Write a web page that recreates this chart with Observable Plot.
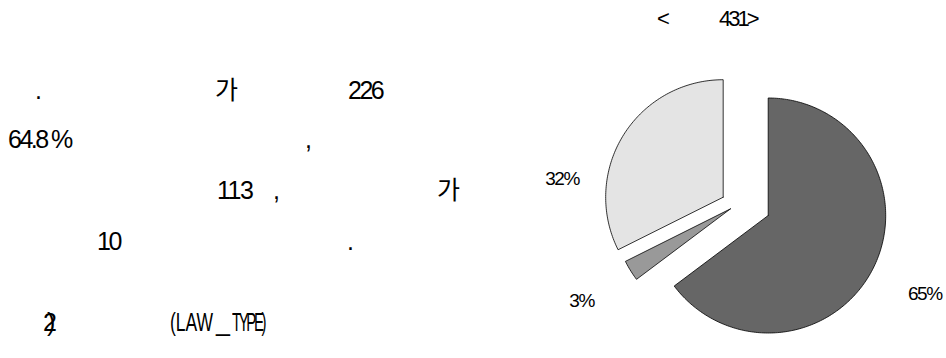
<!DOCTYPE html>
<html>
<head>
<meta charset="utf-8">
<script src="https://cdn.jsdelivr.net/npm/d3@7"></script>
<script src="https://cdn.jsdelivr.net/npm/@observablehq/plot@0.6"></script>
<style>
  body { margin: 0; background: #fff; }
  #wrap { position: relative; width: 946px; height: 358px; overflow: hidden;
          font-family: "Liberation Sans", "Noto Sans CJK KR", sans-serif; color: #000; }
  .t { position: absolute; font-size: 25px; line-height: 25px; white-space: pre; letter-spacing: -2.5px; transform-origin: left center; }
  .h { position: absolute; font-size: 22px; line-height: 22px; white-space: pre; letter-spacing: -3px; }
  #chart { position: absolute; left: 520px; top: 0; }
</style>
</head>
<body>
<div id="wrap">
  <div id="chart"></div>
  <!-- paragraph text (Korean glyphs not rendered in the source) -->
  <span class="t" style="left:35px;top:78px">.</span>
  <span class="t" style="left:215px;top:78px">가</span>
  <span class="t" style="left:348px;top:78px">226</span>
  <span class="t" style="left:8px;top:127px">64.8 %</span>
  <span class="t" style="left:305px;top:127px">,</span>
  <span class="t" style="left:217px;top:178px;letter-spacing:-1.5px">113</span>
  <span class="t" style="left:273px;top:178px">,</span>
  <span class="t" style="left:437px;top:178px">가</span>
  <span class="t" style="left:97px;top:229px">10</span>
  <span class="t" style="left:347px;top:229px">.</span>
  <span class="t" style="left:43px;top:310px;letter-spacing:-10px">2)</span>
  <span class="t" style="left:170px;top:310px;letter-spacing:0;transform:scaleX(0.7)">(LAW</span>
  <span class="t" style="left:216px;top:310px">_</span>
  <span class="t" style="left:232px;top:310px;letter-spacing:-4px;transform:scaleX(0.6)">TYPE)</span>
  <!-- chart title -->
  <span class="h" style="left:657px;top:8px">&lt;</span>
  <span class="h" style="left:719px;top:8px">431&gt;</span>
</div>
<script>
// ---- data (clockwise from 12 o'clock) ----
const categories = ["A", "B", "C"];
const values = [226, 10, 113];
const labels = ["65%", "3%", "32%"];
const colors = ["#666666", "#999999", "#e4e4e4"];

// ---- layout tweaks (in pie-radius units / degrees) ----
const explode = { A: { d: 0.255 }, B: { d: 0.109 }, C: { d: 0.1605, angle: 285 } };
const labelTweak = { C: { angle: 276.4, r: 1.38 } };
const labelR = 1.49;

const data = categories.map((k, i) => ({ key: k, value: values[i], label: labels[i] }));
const arcs = d3.pie().sort(null).value(d => d.value)(data);

const deg = Math.PI / 180;
const pts = [];
const labs = [];
for (const a of arcs) {
  const k = a.data.key;
  const mid = (a.startAngle + a.endAngle) / 2;
  const ex = explode[k];
  const ea = ex.angle != null ? ex.angle * deg : mid;
  const cx = ex.d * Math.sin(ea), cy = ex.d * Math.cos(ea);
  pts.push({ key: k, x: cx, y: cy });
  const n = Math.max(2, Math.ceil((a.endAngle - a.startAngle) / deg));
  for (let i = 0; i <= n; i++) {
    const t = a.startAngle + (a.endAngle - a.startAngle) * i / n;
    pts.push({ key: k, x: cx + Math.sin(t), y: cy + Math.cos(t) });
  }
  pts.push({ key: k, x: cx, y: cy });
  const lt = labelTweak[k] || {};
  const la = lt.angle != null ? lt.angle * deg : mid;
  const lr = lt.r != null ? lt.r : labelR;
  labs.push({ key: k, text: a.data.label, x: cx + lr * Math.sin(la), y: cy + lr * Math.cos(la) });
}

const plot = Plot.plot({
  width: 426,
  height: 358,
  margin: 0,
  x: { domain: [-1.880, 1.7455], axis: null },
  y: { domain: [-1.331, 1.7157], axis: null },
  color: { domain: categories, range: colors },
  style: "font-family:'Liberation Sans',sans-serif;letter-spacing:-1.5px;background:transparent;color:#000;",
  marks: [
    Plot.line(pts, { x: "x", y: "y", z: "key", fill: "key", stroke: "#000", strokeWidth: 0.8, curve: "linear" }),
    Plot.text(labs, { x: "x", y: "y", text: "text", fontSize: 19, fill: "#000" })
  ]
});
document.getElementById("chart").appendChild(plot);
</script>
</body>
</html>
